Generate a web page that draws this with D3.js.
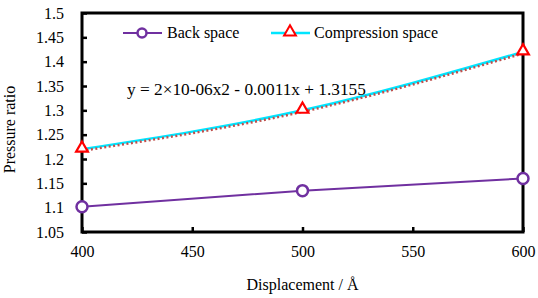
<!DOCTYPE html>
<html>
<head>
<meta charset="utf-8">
<script src="https://cdn.jsdelivr.net/npm/d3@7"></script>
<style>
  body { margin: 0; background: #fff; }
</style>
</head>
<body>
<script>
// data
const displacement = [400, 500, 600];
const backSpace = [1.102, 1.135, 1.160];
const compressionSpace = [1.220, 1.300, 1.420];
const xTicks = [400, 450, 500, 550, 600];
const yTicks = [1.05, 1.1, 1.15, 1.2, 1.25, 1.3, 1.35, 1.4, 1.45, 1.5];
const trendLabel = "y = 2×10-06x2 - 0.0011x + 1.3155";

const serif = "'Liberation Serif', 'Times New Roman', serif";

const margin = {top: 13, right: 15, bottom: 66, left: 82},
    width = 538 - margin.left - margin.right,
    height = 298 - margin.top - margin.bottom;

const svg = d3.select("body")
    .append("svg")
    .attr("width", 538)
    .attr("height", 298)
    .append("g")
    .attr("transform", `translate(${margin.left}, ${margin.top})`);

const x = d3.scaleLinear().domain([400, 600]).range([0, width]);
const y = d3.scaleLinear().domain([1.05, 1.5]).range([height, 0]);

// axes, ticks pointing inward
const xAxis = svg.append("g")
    .attr("transform", `translate(0, ${height})`)
    .call(d3.axisBottom(x).tickValues(xTicks).tickSize(-5).tickPadding(14).tickFormat(d3.format("d")));
const yAxis = svg.append("g")
    .call(d3.axisLeft(y).tickValues(yTicks).tickSize(-5).tickPadding(18).tickFormat(d => String(+d.toFixed(2))));

[xAxis, yAxis].forEach(a => {
  a.select(".domain").remove();
  a.selectAll(".tick line").attr("stroke", "#000").attr("stroke-width", 2.5);
});

// frame
svg.append("rect")
    .attr("x", 0).attr("y", 0)
    .attr("width", width).attr("height", height)
    .attr("fill", "none")
    .attr("stroke", "#000")
    .attr("stroke-width", 3);

const back = displacement.map((d, i) => [d, backSpace[i]]);
const comp = displacement.map((d, i) => [d, compressionSpace[i]]);

// back space line
svg.append("path")
    .datum(back)
    .attr("fill", "none")
    .attr("stroke", "#7030A0")
    .attr("stroke-width", 2)
    .attr("d", d3.line().x(d => x(d[0])).y(d => y(d[1])));

// compression space smoothed line
svg.append("path")
    .datum(comp)
    .attr("fill", "none")
    .attr("stroke", "#00E5FF")
    .attr("stroke-width", 2.5)
    .attr("d", d3.line().curve(d3.curveNatural).x(d => x(d[0])).y(d => y(d[1])));

// trendline (dotted)
svg.append("path")
    .datum(comp)
    .attr("fill", "none")
    .attr("stroke", "#C0504D")
    .attr("stroke-width", 2.5)
    .attr("stroke-dasharray", "2,2.5")
    .attr("transform", "translate(0,1.5)")
    .attr("d", d3.line().curve(d3.curveNatural).x(d => x(d[0])).y(d => y(d[1])));

const tri = d3.symbol().type(d3.symbolTriangle).size(60);

// markers
svg.selectAll(".backDot")
    .data(back)
    .join("circle")
    .attr("cx", d => x(d[0]))
    .attr("cy", d => y(d[1]))
    .attr("r", 5.5)
    .attr("fill", "#fff")
    .attr("stroke", "#7030A0")
    .attr("stroke-width", 2.5);

svg.selectAll(".compDot")
    .data(comp)
    .join("path")
    .attr("transform", d => `translate(${x(d[0])},${y(d[1]) - 1})`)
    .attr("d", tri)
    .attr("fill", "#fff")
    .attr("stroke", "#FF0000")
    .attr("stroke-width", 2.2);

// legend
const lg = svg.append("g").attr("transform", "translate(0, 20)");
lg.append("line").attr("x1", 41).attr("x2", 80).attr("y1", 0).attr("y2", 0)
    .attr("stroke", "#7030A0").attr("stroke-width", 2);
lg.append("circle").attr("cx", 60).attr("cy", 0).attr("r", 4.5)
    .attr("fill", "#fff").attr("stroke", "#7030A0").attr("stroke-width", 2.5);
lg.append("text").attr("x", 85).attr("y", 5).text("Back space");
lg.append("line").attr("x1", 189).attr("x2", 228).attr("y1", 0).attr("y2", 0)
    .attr("stroke", "#00E5FF").attr("stroke-width", 2.5);
lg.append("path").attr("transform", "translate(208,-1)").attr("d", tri)
    .attr("fill", "#fff").attr("stroke", "#FF0000").attr("stroke-width", 2);
lg.append("text").attr("x", 232).attr("y", 5).text("Compression space");

// axis titles
svg.append("text")
    .attr("x", width / 2)
    .attr("y", height + 58)
    .attr("text-anchor", "middle")
    .text("Displacement / Å");

svg.append("text")
    .attr("transform", `translate(-67, ${height / 2 + 7}) rotate(-90)`)
    .attr("text-anchor", "middle")
    .text("Pressure ratio");

// every text in serif
d3.selectAll("svg text")
    .style("font-family", serif)
    .style("font-size", "16px")
    .style("fill", "#000");

// trendline equation
svg.append("text")
    .attr("x", 45)
    .attr("y", 82)
    .style("font-family", serif)
    .style("font-size", "17.3px")
    .style("fill", "#000")
    .text(trendLabel);
</script>
</body>
</html>
